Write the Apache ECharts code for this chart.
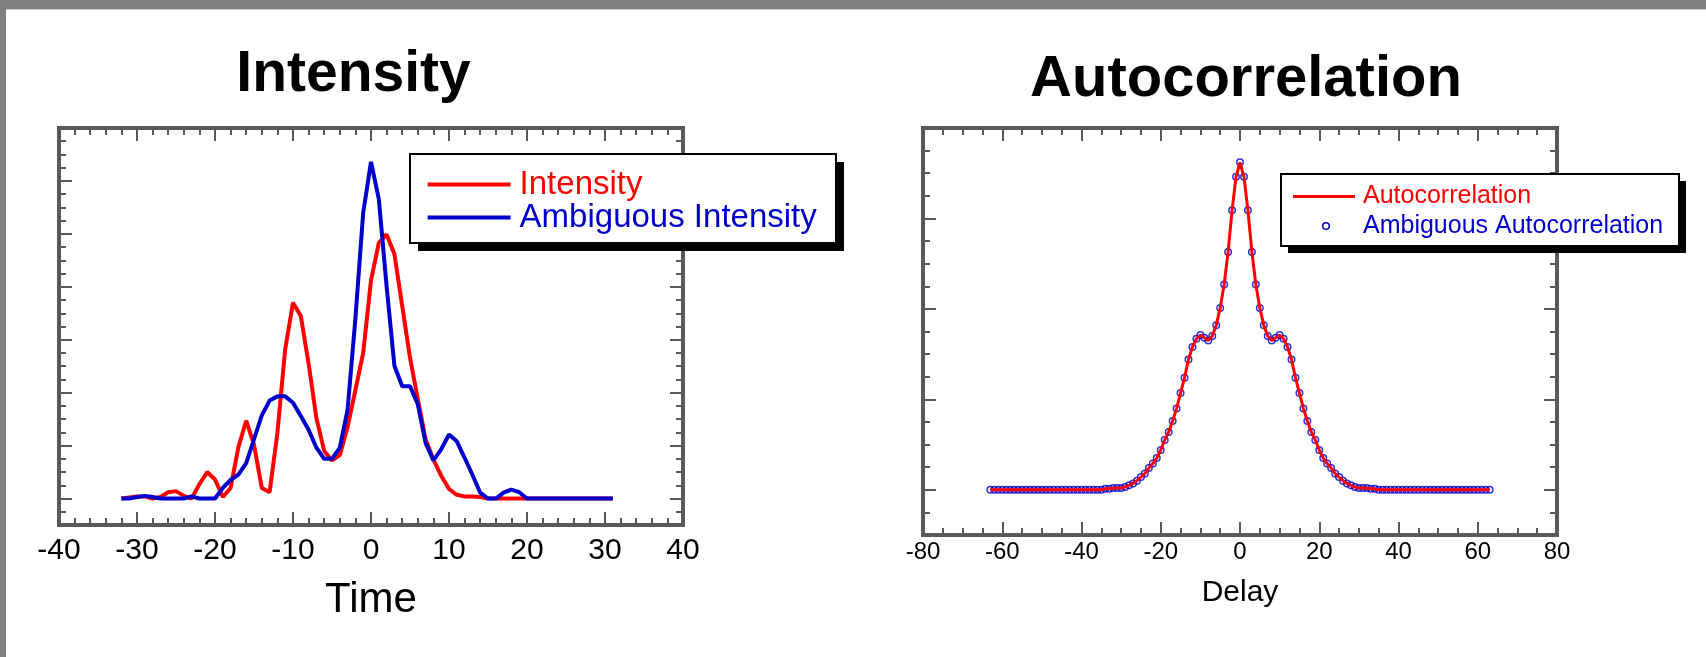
<!DOCTYPE html>
<html><head><meta charset="utf-8">
<script src="https://cdn.jsdelivr.net/npm/echarts@6/dist/echarts.min.js"></script>
<style>html,body{margin:0;padding:0;background:#fff}#c{width:1706px;height:657px}</style>
</head><body><div id="c"></div>
<script>
// ---------- data ----------
const time = [-32,-31,-30,-29,-28,-27,-26,-25,-24,-23,-22,-21,-20,-19,-18,-17,-16,-15,-14,-13,
  -12,-11,-10,-9,-8,-7,-6,-5,-4,-3,-2,-1,0,1,2,3,4,5,6,7,8,9,10,11,12,13,14,15,16,17,
  18,19,20,21,22,23,24,25,26,27,28,29,30,31];
const intensity = [0,0.02,0.04,0.04,0,0.03,0.12,0.14,0.05,0,
  0.27,0.5,0.36,0.03,0.2,0.97,1.47,1.02,0.2,0.12,
  1.24,2.82,3.7,3.45,2.55,1.52,0.9,0.72,0.82,1.35,
  2.05,2.75,4.12,4.83,4.99,4.62,3.64,2.66,1.88,1.12,
  0.74,0.43,0.18,0.07,0.04,0.04,0.03,0,0,0,
  0,0,0,0,0,0,0,0,0,0,
  0,0,0,0];
const ambiguousIntensity = [0,0,0.03,0.05,0.03,0,0,0,0,0.04,
  0,0,0,0.2,0.35,0.45,0.67,1.12,1.57,1.85,
  1.93,1.93,1.81,1.56,1.3,0.96,0.75,0.75,0.96,1.68,
  3.4,5.4,6.36,5.66,4.01,2.51,2.12,2.12,1.78,1.05,
  0.72,0.93,1.21,1.08,0.77,0.45,0.11,0,0,0.11,
  0.17,0.12,0,0,0,0,0,0,0,0,
  0,0,0,0];
const delay = [-63,-62,-61,-60,-59,-58,-57,-56,-55,-54,-53,-52,-51,-50,-49,-48,-47,-46,-45,-44,
  -43,-42,-41,-40,-39,-38,-37,-36,-35,-34,-33,-32,-31,-30,-29,-28,-27,-26,-25,-24,
  -23,-22,-21,-20,-19,-18,-17,-16,-15,-14,-13,-12,-11,-10,-9,-8,-7,-6,-5,-4,-3,-2,-1,
  0,1,2,3,4,5,6,7,8,9,10,11,12,13,14,15,16,17,18,19,20,21,22,23,24,25,26,27,28,29,30,
  31,32,33,34,35,36,37,38,39,40,41,42,43,44,45,46,47,48,49,50,51,52,53,54,55,56,57,58,59,60,61,62,63];
const autocorrelation = [0,0,0,0,0,0,0,0,0,0,
  0,0,0,0,0,0,0,0,0,0,
  0,0,0,0,0,0,0,0,0,
  0.01,0.01,0.02,0.02,0.02,0.03,0.05,0.07,0.10,0.14,
  0.18,0.24,0.29,0.35,0.44,0.55,0.64,0.76,0.90,1.07,
  1.24,1.44,1.58,1.67,1.71,1.68,1.65,1.70,1.82,2.01,
  2.27,2.63,3.09,3.46,
  3.62,
  3.46,3.09,2.63,2.27,
  2.01,1.82,1.70,1.65,1.68,1.71,1.67,1.58,1.44,1.24,
  1.07,0.90,0.76,0.64,0.55,0.44,0.35,0.29,0.24,0.18,
  0.14,0.10,0.07,0.05,0.03,0.02,0.02,0.02,0.01,0.01,
  0,0,0,0,0,0,0,0,0,
  0,0,0,0,0,0,0,0,0,0,
  0,0,0,0,0,0,0,0,0,0];
const ambiguousAutocorrelation = [0,0,0,0,0,0,0,0,0,0,
  0,0,0,0,0,0,0,0,0,0,
  0,0,0,0,0,0,0,0,0,
  0.01,0.01,0.02,0.02,0.02,0.03,0.05,0.07,0.10,0.14,
  0.18,0.24,0.29,0.35,0.44,0.55,0.64,0.76,0.90,1.07,
  1.24,1.44,1.58,1.67,1.71,1.68,1.65,1.70,1.82,2.01,
  2.27,2.63,3.09,3.46,
  3.62,
  3.46,3.09,2.63,2.27,
  2.01,1.82,1.70,1.65,1.68,1.71,1.67,1.58,1.44,1.24,
  1.07,0.90,0.76,0.64,0.55,0.44,0.35,0.29,0.24,0.18,
  0.14,0.10,0.07,0.05,0.03,0.02,0.02,0.02,0.01,0.01,
  0,0,0,0,0,0,0,0,0,
  0,0,0,0,0,0,0,0,0,0,
  0,0,0,0,0,0,0,0,0,0];
const intensityMajorTicks = [0,1,2,3,4,5,6,7];
const autoMajorTicks = [0,1,2,3,4];

// ---------- style ----------
const FRAME = '#595959';
const FONT = 'Liberation Sans';
const RED = '#ff0000';
const BLUE = '#0000cc';

function xAx(grid, pos, min, max, interval, split, showLabel, fontSize, margin, name, nameSize, nameGap) {
  return {
    gridIndex: grid, type: 'value', position: pos, min: min, max: max, interval: interval,
    axisLine: {show: false, onZero: false}, splitLine: {show: false}, minorSplitLine: {show: false},
    axisTick: {show: true, inside: true, length: 13, lineStyle: {color: FRAME, width: 2}},
    minorTick: {show: true, splitNumber: split, length: 7, lineStyle: {color: FRAME, width: 2}},
    axisLabel: {show: showLabel, fontSize: fontSize, color: '#000', margin: margin, fontFamily: FONT},
    name: name || '', nameLocation: 'middle', nameGap: nameGap || 0,
    nameTextStyle: {fontSize: nameSize || 12, color: '#000', fontFamily: FONT}
  };
}
function yMajor(grid, pos, min, max, ticks) {
  return {
    gridIndex: grid, type: 'value', position: pos, min: min, max: max,
    axisLine: {show: false, onZero: false}, splitLine: {show: false}, axisLabel: {show: false},
    axisTick: {show: true, inside: true, length: 13, customValues: ticks, lineStyle: {color: FRAME, width: 2}}
  };
}
function yMinor(grid, pos, min, max) {
  return {
    gridIndex: grid, type: 'value', position: pos, min: min, max: max, interval: 0.25,
    axisLine: {show: false, onZero: false}, splitLine: {show: false}, axisLabel: {show: false},
    axisTick: {show: true, inside: true, length: 7, lineStyle: {color: FRAME, width: 2}}
  };
}

const chart = echarts.init(document.getElementById('c'), null, {renderer: 'canvas'});
chart.setOption({
  animation: false,
  backgroundColor: '#fff',
  grid: [
    {left: 59, top: 128, width: 624, height: 397, show: true, borderColor: FRAME, borderWidth: 4, backgroundColor: 'transparent'},
    {left: 923, top: 128, width: 634, height: 407, show: true, borderColor: FRAME, borderWidth: 4, backgroundColor: 'transparent'}
  ],
  xAxis: [
    xAx(0, 'bottom', -40, 40, 10, 5, true, 30, 11, 'Time', 42, 54),
    xAx(0, 'top', -40, 40, 10, 5, false, 30, 8),
    xAx(1, 'bottom', -80, 80, 20, 4, true, 24, 5, 'Delay', 30, 43),
    xAx(1, 'top', -80, 80, 20, 4, false, 24, 5)
  ],
  yAxis: [
    yMajor(0, 'left', -0.5, 7, intensityMajorTicks),
    yMinor(0, 'left', -0.5, 7),
    yMajor(0, 'right', -0.5, 7, intensityMajorTicks),
    yMinor(0, 'right', -0.5, 7),
    yMajor(1, 'left', -0.5, 4, autoMajorTicks),
    yMinor(1, 'left', -0.5, 4),
    yMajor(1, 'right', -0.5, 4, autoMajorTicks),
    yMinor(1, 'right', -0.5, 4)
  ],
  legend: [
    {left: 427.6, top: 168, orient: 'vertical', padding: 0, itemGap: 0, itemWidth: 83, itemHeight: 4,
     icon: 'rect', selectedMode: false, z: 200,
     data: [{name: 'Intensity', textStyle: {color: RED}}, {name: 'Ambiguous Intensity', textStyle: {color: BLUE}}],
     textStyle: {fontSize: 33, lineHeight: 32, fontFamily: FONT, padding: [0, 0, 0, 4]}},
    {left: 1293, top: 182, orient: 'vertical', padding: 0, itemGap: 0, itemWidth: 62, itemHeight: 3,
     icon: 'rect', selectedMode: false, z: 200, data: ['Autocorrelation'],
     textStyle: {fontSize: 25, lineHeight: 29, color: RED, fontFamily: FONT, padding: [0, 0, 0, 3]}},
    {left: 1320, top: 211.5, orient: 'vertical', padding: 0, itemGap: 0, itemWidth: 62, itemHeight: 8,
     icon: 'circle', selectedMode: false, z: 200, data: ['Ambiguous Autocorrelation'],
     itemStyle: {color: 'rgba(0,0,0,0)', borderColor: 'rgba(0,0,0,0)', borderWidth: 0, opacity: 0},
     textStyle: {fontSize: 25, lineHeight: 29, color: BLUE, fontFamily: FONT, padding: [0, 0, 0, 3]}}
  ],
  graphic: [
    {type: 'rect', shape: {x: 0, y: 0, width: 1706, height: 9}, style: {fill: '#808080'}, z: 100},
    {type: 'rect', shape: {x: 6, y: 9, width: 1700, height: 1}, style: {fill: '#c8c8c8'}, z: 100},
    {type: 'rect', shape: {x: 0, y: 0, width: 6, height: 657}, style: {fill: '#808080'}, z: 100},
    {type: 'rect', shape: {x: 418, y: 162, width: 426, height: 89}, style: {fill: '#000'}, z: 100},
    {type: 'rect', shape: {x: 410, y: 154, width: 426, height: 89}, style: {fill: '#fff', stroke: '#000', lineWidth: 2}, z: 101},
    {type: 'rect', shape: {x: 1288, y: 181, width: 398, height: 72}, style: {fill: '#000'}, z: 100},
    {type: 'rect', shape: {x: 1281, y: 174, width: 398, height: 72}, style: {fill: '#fff', stroke: '#000', lineWidth: 2}, z: 101},
    {type: 'circle', shape: {cx: 1326, cy: 226, r: 3.3}, style: {fill: 'none', stroke: BLUE, lineWidth: 1.5}, z: 300},
    {type: 'text', x: 353.5, y: 75.3, z: 100,
     style: {text: 'Intensity', font: 'bold 57px "Liberation Sans"', fill: '#000', align: 'center', verticalAlign: 'middle'}},
    {type: 'text', x: 1246, y: 79.9, z: 100,
     style: {text: 'Autocorrelation', font: 'bold 58px "Liberation Sans"', fill: '#000', align: 'center', verticalAlign: 'middle'}}
  ],
  series: [
    {name: 'Intensity', type: 'line', xAxisIndex: 0, yAxisIndex: 0, showSymbol: false, symbol: 'none',
     lineStyle: {color: RED, width: 4}, itemStyle: {color: RED},
     data: time.map((t, i) => [t, intensity[i]])},
    {name: 'Ambiguous Intensity', type: 'line', xAxisIndex: 0, yAxisIndex: 0, showSymbol: false, symbol: 'none',
     lineStyle: {color: BLUE, width: 4}, itemStyle: {color: BLUE},
     data: time.map((t, i) => [t, ambiguousIntensity[i]])},
    {name: 'Autocorrelation', type: 'line', xAxisIndex: 2, yAxisIndex: 4, showSymbol: false, symbol: 'none',
     lineStyle: {color: RED, width: 3}, itemStyle: {color: RED},
     data: delay.map((d, i) => [d, autocorrelation[i]])},
    {name: 'Ambiguous Autocorrelation', type: 'scatter', xAxisIndex: 2, yAxisIndex: 4, symbol: 'circle', symbolSize: 6.5,
     itemStyle: {color: 'rgba(0,0,0,0)', borderColor: BLUE, borderWidth: 1.5},
     data: delay.map((d, i) => [d, ambiguousAutocorrelation[i]])}
  ]
});
</script></body></html>
